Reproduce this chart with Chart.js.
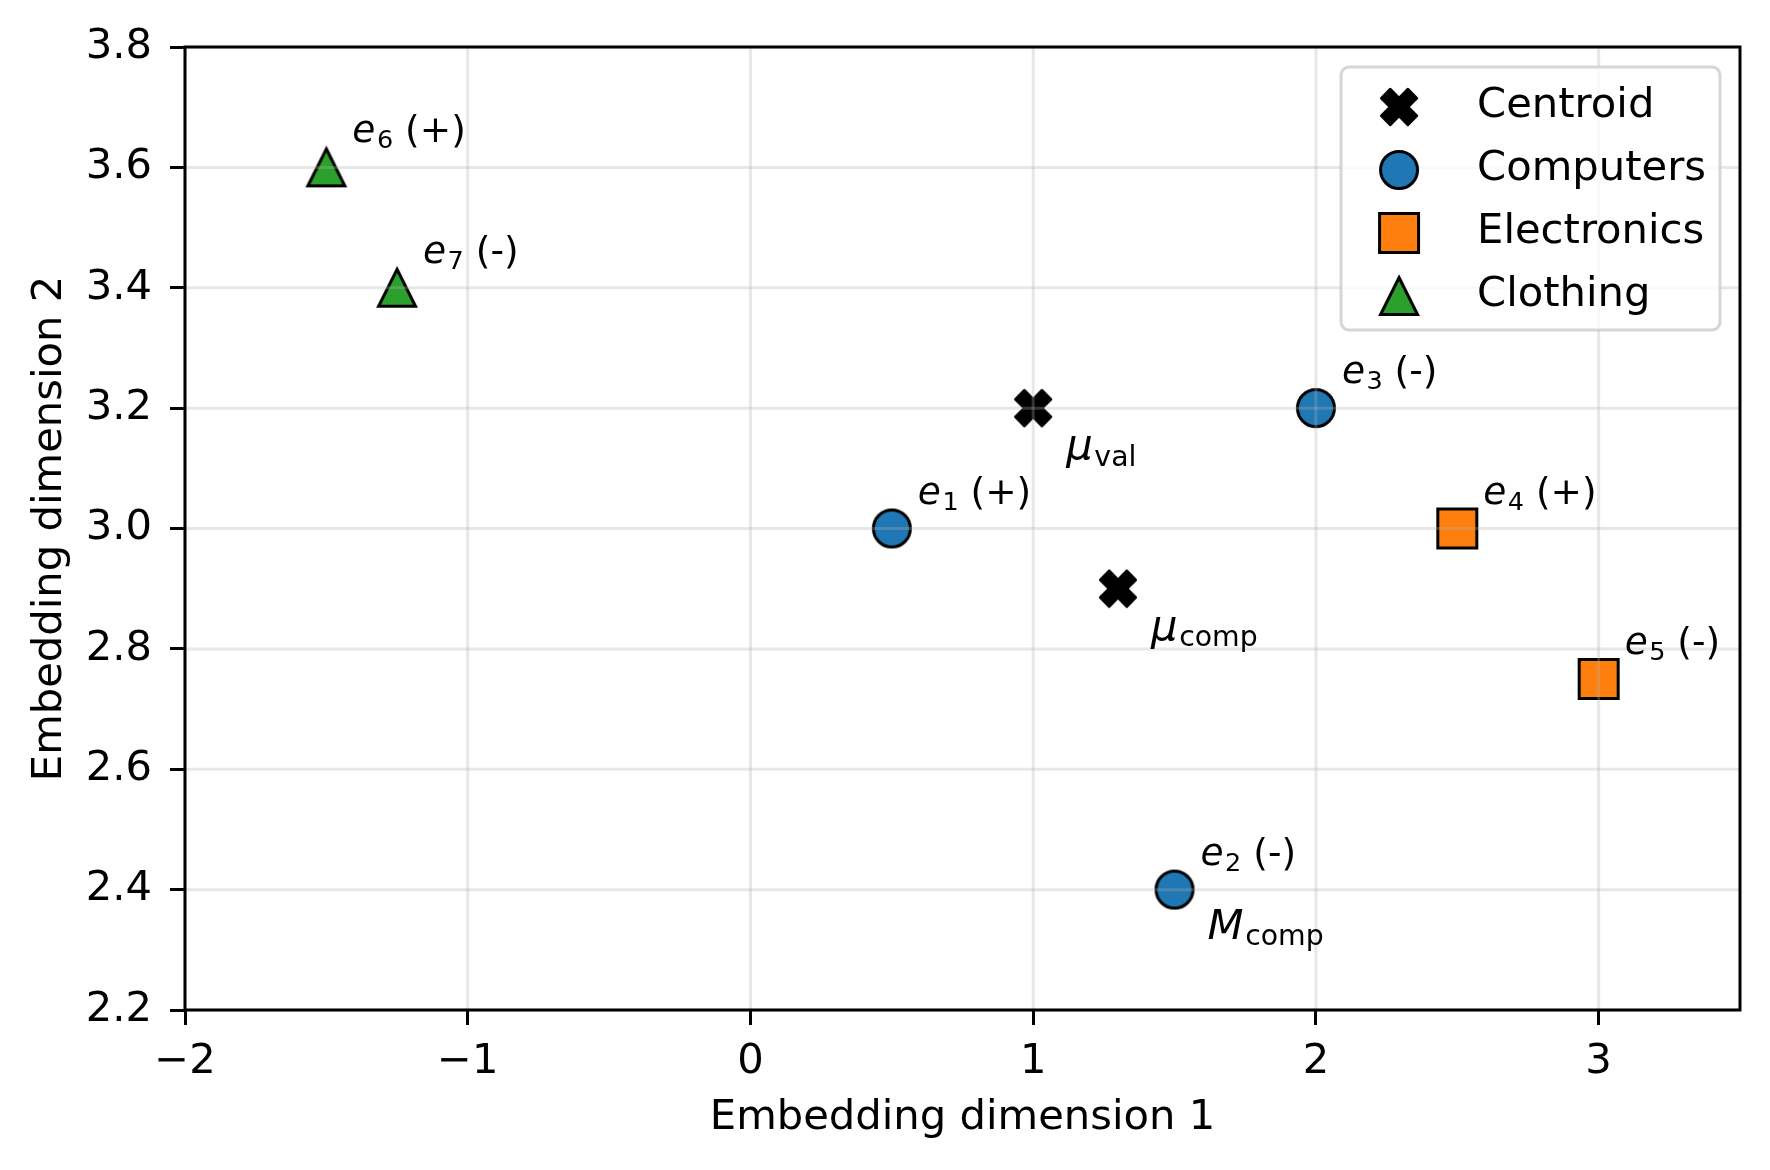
<!DOCTYPE html>
<html>
<head>
<meta charset="utf-8">
<script src="https://cdn.jsdelivr.net/npm/chart.js@4.4.0/dist/chart.umd.min.js"></script>
<style>
  html, body { margin: 0; padding: 0; background: #ffffff; }
  canvas { display: block; }
</style>
</head>
<body>
<canvas id="embeddingChart" width="1770" height="1170"></canvas>
<script>
// items e1..e7 with their group and sign
const itemNames = ['1', '2', '3', '4', '5', '6', '7'];
const itemSigns = ['+', '-', '-', '+', '-', '+', '-'];
const itemGroups = ['Computers', 'Computers', 'Computers', 'Electronics', 'Electronics', 'Clothing', 'Clothing'];
const itemX = [0.5, 1.5, 2.0, 2.5, 3.0, -1.5, -1.25];
const itemY = [3.0, 2.4, 3.2, 3.0, 2.75, 3.6, 3.4];

// centroids (mu_val, mu_comp) and the medoid M_comp
const centroidNames = ['val', 'comp'];
const centroidX = [1.0, 1.3];
const centroidY = [3.2, 2.9];
const medoidNames = ['comp'];
const medoidX = [1.5];
const medoidY = [2.4];

const groupNames = ['Computers', 'Electronics', 'Clothing'];
const groupColors = ['#1f77b4', '#ff7f0e', '#2ca02c'];
const groupShapes = ['circle', 'square', 'triangle'];

const xTicks = [-2, -1, 0, 1, 2, 3];
const yTicks = [2.2, 2.4, 2.6, 2.8, 3.0, 3.2, 3.4, 3.6, 3.8];

const FONT = '"DejaVu Sans", sans-serif';
const SIZE = 41.7;

// marker images, drawn like matplotlib markers
function makeMarker(shape, fill) {
    const c = document.createElement('canvas');
    c.width = 48;
    c.height = 48;
    const g = c.getContext('2d');
    const m = 24;
    g.fillStyle = fill;
    g.strokeStyle = '#000';
    g.lineWidth = 3;
    g.beginPath();
    if (shape === 'circle') {
        g.arc(m, m, 18.5, 0, Math.PI * 2);
    } else if (shape === 'square') {
        g.rect(m - 19.5, m - 19.5, 39, 39);
    } else if (shape === 'triangle') {
        g.moveTo(m, m - 18.5);
        g.lineTo(m + 18.5, m + 18.5);
        g.lineTo(m - 18.5, m + 18.5);
        g.closePath();
    } else {
        const u = 8.8;
        const pts = [[-1, -2], [0, -1], [1, -2], [2, -1], [1, 0], [2, 1], [1, 2], [0, 1], [-1, 2], [-2, 1], [-1, 0], [-2, -1]];
        pts.forEach((p, i) => {
            if (i === 0) g.moveTo(m + p[0] * u, m + p[1] * u);
            else g.lineTo(m + p[0] * u, m + p[1] * u);
        });
        g.closePath();
        g.lineJoin = 'round';
    }
    g.fill();
    g.stroke();
    return c;
}

const datasets = [{
    label: 'Centroid',
    data: centroidX.map((x, i) => ({ x: x, y: centroidY[i] })),
    pointStyle: makeMarker('x', '#000'),
    pointRadius: 20
}];
groupNames.forEach((name, gi) => {
    const pts = [];
    itemX.forEach((x, i) => {
        if (itemGroups[i] === name) pts.push({ x: x, y: itemY[i] });
    });
    datasets.push({
        label: name,
        data: pts,
        pointStyle: makeMarker(groupShapes[gi], groupColors[gi]),
        pointRadius: 20
    });
});

// text with italic part and subscript, like mathtext
function drawRuns(ctx, x, y, runs, size) {
    let cx = x;
    runs.forEach(r => {
        const s = r.sub ? size * 0.68 : size;
        ctx.font = (r.it ? 'italic ' : '') + s + 'px ' + FONT;
        ctx.fillText(r.t, cx, r.sub ? y + size * 0.16 : y);
        cx += ctx.measureText(r.t).width + (r.it ? size * 0.04 : 0);
    });
}

const overlayPlugin = {
    id: 'overlay',
    afterDatasetsDraw(chart) {
        const ctx = chart.ctx;
        const area = chart.chartArea;
        const xs = chart.scales.x;
        const ys = chart.scales.y;

        // grid above the markers, as in the original
        ctx.save();
        ctx.strokeStyle = 'rgba(176,176,176,0.3)';
        ctx.lineWidth = 3;
        xs.ticks.forEach(t => {
            const px = xs.getPixelForValue(t.value);
            ctx.beginPath();
            ctx.moveTo(px, area.top);
            ctx.lineTo(px, area.bottom);
            ctx.stroke();
        });
        ys.ticks.forEach(t => {
            const py = ys.getPixelForValue(t.value);
            ctx.beginPath();
            ctx.moveTo(area.left, py);
            ctx.lineTo(area.right, py);
            ctx.stroke();
        });

        // frame
        ctx.strokeStyle = '#000';
        ctx.lineWidth = 3;
        ctx.strokeRect(area.left, area.top, area.right - area.left, area.bottom - area.top);

        // point labels
        ctx.fillStyle = '#000';
        ctx.textAlign = 'left';
        ctx.textBaseline = 'alphabetic';
        itemX.forEach((x, i) => {
            const px = xs.getPixelForValue(x);
            const py = ys.getPixelForValue(itemY[i]);
            drawRuns(ctx, px + 26, py - 25, [
                { t: 'e', it: true },
                { t: itemNames[i], sub: true },
                { t: ' (' + itemSigns[i] + ')' }
            ], 37.5);
        });
        centroidX.forEach((x, i) => {
            const px = xs.getPixelForValue(x);
            const py = ys.getPixelForValue(centroidY[i]);
            drawRuns(ctx, px + 33, py + 51, [
                { t: 'μ', it: true },
                { t: centroidNames[i], sub: true }
            ], SIZE);
        });
        medoidX.forEach((x, i) => {
            const px = xs.getPixelForValue(x);
            const py = ys.getPixelForValue(medoidY[i]);
            drawRuns(ctx, px + 33, py + 49, [
                { t: 'M', it: true },
                { t: medoidNames[i], sub: true }
            ], SIZE);
        });

        // legend box in upper right
        ctx.font = SIZE + 'px ' + FONT;
        const sets = chart.data.datasets;
        let maxW = 0;
        sets.forEach(ds => { maxW = Math.max(maxW, ctx.measureText(ds.label).width); });
        const boxW = 136 + maxW + 14;
        const boxH = 40 + (sets.length - 1) * 63 + 34;
        const bx = area.right - 20 - boxW;
        const by = area.top + 20;
        ctx.beginPath();
        ctx.roundRect(bx, by, boxW, boxH, 8);
        ctx.fillStyle = 'rgba(255,255,255,0.8)';
        ctx.fill();
        ctx.strokeStyle = 'rgba(204,204,204,0.8)';
        ctx.lineWidth = 3;
        ctx.stroke();
        sets.forEach((ds, i) => {
            const cy = by + 40 + i * 63;
            const img = ds.pointStyle;
            ctx.drawImage(img, bx + 58 - img.width / 2, cy - img.height / 2);
            ctx.fillStyle = '#000';
            ctx.fillText(ds.label, bx + 136, cy + 10);
        });
        ctx.restore();
    }
};

const ctx = document.getElementById('embeddingChart').getContext('2d');
const chart = new Chart(ctx, {
    type: 'scatter',
    data: { datasets: datasets },
    options: {
        responsive: false,
        devicePixelRatio: 1,
        animation: false,
        layout: { padding: { left: 0, top: 47, right: 30, bottom: 0 } },
        plugins: {
            legend: { display: false },
            tooltip: { enabled: false }
        },
        scales: {
            x: {
                type: 'linear',
                min: -2,
                max: 3.5,
                afterBuildTicks: s => { s.ticks = xTicks.map(v => ({ value: v })); },
                afterFit: s => { s.height = 160; },
                border: { display: false },
                grid: { drawOnChartArea: false, tickColor: '#000', tickWidth: 3, tickLength: 15 },
                ticks: {
                    color: '#000',
                    font: { family: FONT, size: SIZE },
                    padding: 12,
                    maxRotation: 0,
                    autoSkip: false,
                    callback: v => String(v).replace('-', '\u2212')
                },
                title: {
                    display: true,
                    text: 'Embedding dimension 1',
                    color: '#000',
                    font: { family: FONT, size: SIZE },
                    padding: { top: 0, bottom: 27 }
                }
            },
            y: {
                type: 'linear',
                min: 2.2,
                max: 3.8,
                afterBuildTicks: s => { s.ticks = yTicks.map(v => ({ value: v })); },
                afterFit: s => { s.width = 185; },
                border: { display: false },
                grid: { drawOnChartArea: false, tickColor: '#000', tickWidth: 3, tickLength: 15 },
                ticks: {
                    color: '#000',
                    font: { family: FONT, size: SIZE },
                    padding: 18,
                    autoSkip: false,
                    callback: v => v.toFixed(1)
                },
                title: {
                    display: true,
                    text: 'Embedding dimension 2',
                    color: '#000',
                    font: { family: FONT, size: SIZE },
                    padding: { top: 25, bottom: 0 }
                }
            }
        }
    },
    plugins: [overlayPlugin]
});
</script>
</body>
</html>
